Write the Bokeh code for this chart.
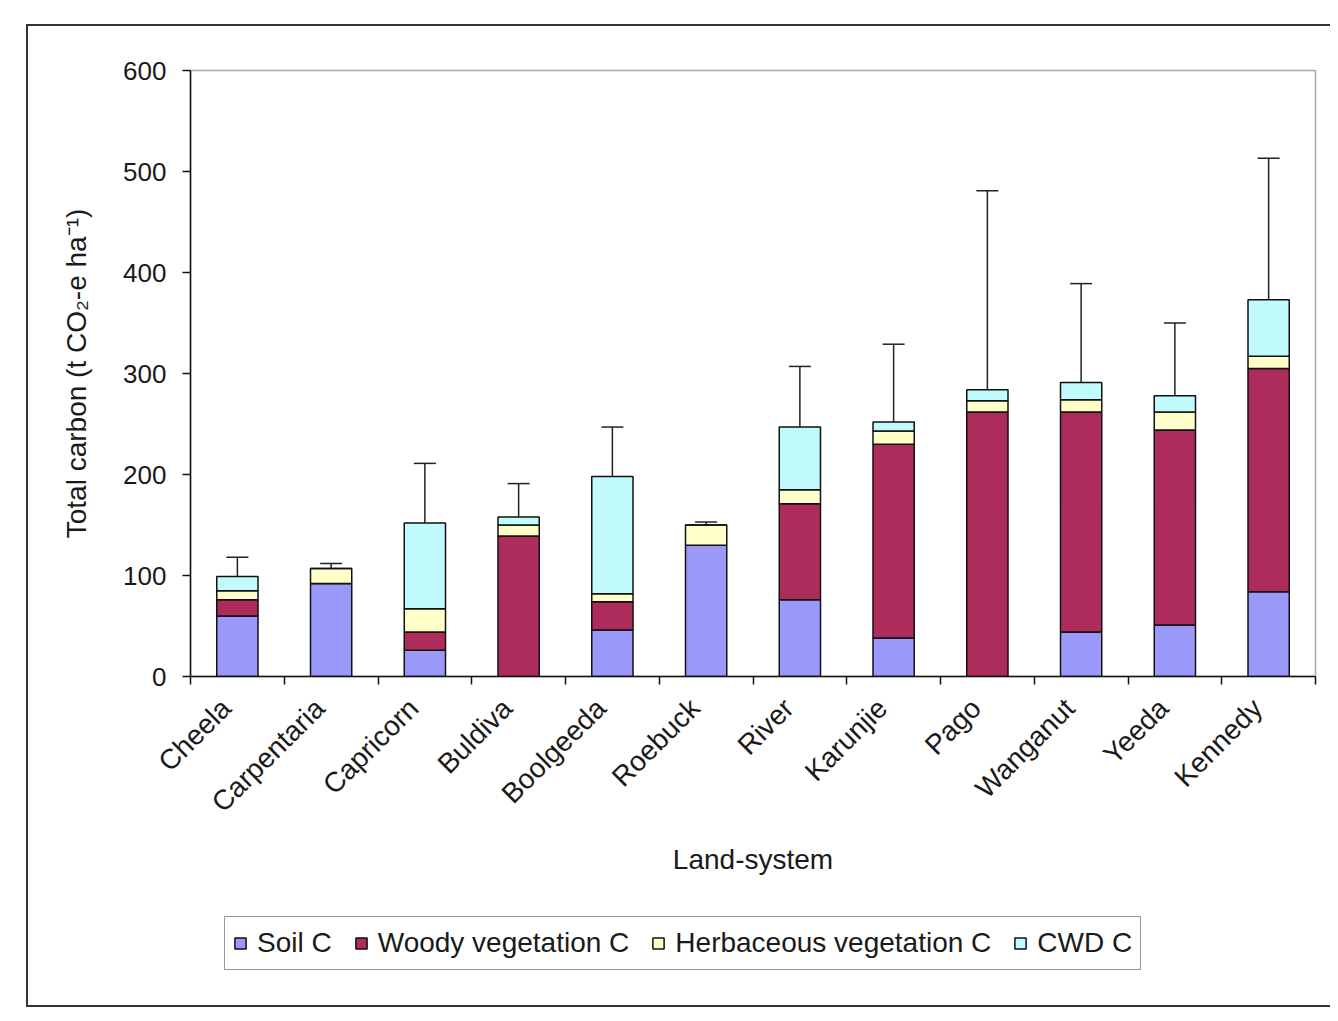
import math
from bokeh.plotting import figure
from bokeh.models import (ColumnDataSource, FixedTicker, Range1d, Whisker, TeeHead,
                          Legend, LegendItem, Spacer)
from bokeh.layouts import column, row
from bokeh.embed import file_html
from bokeh.resources import INLINE

# ---- data ----
sites = ["Cheela", "Carpentaria", "Capricorn", "Buldiva", "Boolgeeda", "Roebuck",
         "River", "Karunjie", "Pago", "Wanganut", "Yeeda", "Kennedy"]
soil_c = [60, 92, 26, 0, 46, 130, 76, 38, 0, 44, 51, 84]
woody_c = [16, 0, 18, 139, 28, 0, 95, 192, 262, 218, 193, 221]
herb_c = [9, 15, 23, 11, 8, 20, 14, 13, 11, 12, 18, 12]
cwd_c = [14, 0, 85, 8, 116, 0, 62, 9, 11, 17, 16, 56]
error_sd = [19, 5, 59, 33, 49, 3, 60, 77, 197, 98, 72, 140]
y_ticks = [0, 100, 200, 300, 400, 500, 600]
series_labels = ["Soil C", "Woody vegetation C", "Herbaceous vegetation C", "CWD C"]

colors = ["#9A98F8", "#AE2C5C", "#FFFFCA", "#C0FAFC"]
FONT = "Liberation Sans"
TXT = "#1a1a1a"
EDGE = "#333333"

n = len(sites)
xpos = [i + 0.5 for i in range(n)]
totals = [a + b + c + d for a, b, c, d in zip(soil_c, woody_c, herb_c, cwd_c)]
upper = [t + e for t, e in zip(totals, error_sd)]

src = ColumnDataSource(dict(x=xpos, soil=soil_c, woody=woody_c, herb=herb_c, cwd=cwd_c,
                            total=totals, upper=upper))

W = 1302
P_H = 870
L_H = 109

p = figure(width=W, height=P_H, x_range=Range1d(0, n), y_range=Range1d(0, 600),
           output_backend="svg", toolbar_location=None,
           min_border_left=162, min_border_right=15, min_border_top=44, min_border_bottom=220,
           background_fill_color="white", border_fill_color="white")
p.outline_line_color = "#a8a8a8"
p.outline_line_width = 1.5
p.xgrid.visible = False
p.ygrid.visible = False

rs = p.vbar_stack(["soil", "woody", "herb", "cwd"], x="x", width=0.44, source=src,
                  fill_color=colors, line_color="#111111", line_width=1.5)

wh = Whisker(source=src, base="x", lower="total", upper="upper", dimension="height",
             line_color="#222222", line_width=1.5, lower_head=None,
             upper_head=TeeHead(size=22, line_color="#222222", line_width=1.5))
p.add_layout(wh)

# x axis: labels near category centres, tick marks between categories
label_pos = [i + 0.38 for i in range(n)]
xa = p.xaxis[0]
xa.ticker = FixedTicker(ticks=label_pos, minor_ticks=list(range(n + 1)))
xa.major_label_overrides = {pos: s for pos, s in zip(label_pos, sites)}
xa.major_label_orientation = math.pi / 4
xa.major_tick_line_color = None
xa.major_tick_out = 8
xa.major_tick_in = 0
xa.minor_tick_in = 0
xa.minor_tick_out = 8
xa.minor_tick_line_color = "#111111"
xa.minor_tick_line_width = 1.5
xa.axis_line_color = "#111111"
xa.axis_line_width = 1.5
xa.major_label_text_font = FONT
xa.major_label_text_font_size = "28px"
xa.major_label_text_color = TXT
xa.major_label_standoff = 19
xa.axis_label = "Land-system"
xa.axis_label_text_font = FONT
xa.axis_label_text_font_size = "28px"
xa.axis_label_text_font_style = "normal"
xa.axis_label_text_color = TXT
xa.axis_label_standoff = 12

ya = p.yaxis[0]
ya.ticker = FixedTicker(ticks=y_ticks)
ya.major_tick_out = 8
ya.major_tick_in = 0
ya.minor_tick_line_color = None
ya.major_tick_line_color = "#111111"
ya.major_tick_line_width = 1.5
ya.axis_line_color = "#111111"
ya.axis_line_width = 1.5
ya.major_label_text_font = FONT
ya.major_label_text_font_size = "26px"
ya.major_label_text_color = TXT
ya.major_label_standoff = 16
ya.axis_label = "Total carbon (t CO\u2082-e ha\u207b\u00b9)"
ya.axis_label_text_font = FONT
ya.axis_label_text_font_size = "28px"
ya.axis_label_text_font_style = "normal"
ya.axis_label_text_color = TXT
ya.axis_label_standoff = 28

# legend strip below the chart; its proxy renderers hold only NaN (nothing is drawn)
lg = figure(width=W, height=L_H, x_range=Range1d(0, 1), y_range=Range1d(0, 1),
            x_axis_type=None, y_axis_type=None, output_backend="svg", toolbar_location=None,
            min_border=0, min_border_left=0, min_border_right=0, min_border_top=0,
            min_border_bottom=0, outline_line_color=None,
            background_fill_color="white", border_fill_color="white")
lg.xgrid.visible = False
lg.ygrid.visible = False
proxy = ColumnDataSource(dict(x=[float("nan")], top=[float("nan")]))
lrs = [lg.vbar(x="x", top="top", width=0.1, source=proxy, fill_color=c,
               line_color="#111111", line_width=1.5) for c in colors]
legend = Legend(items=[LegendItem(label=lab, renderers=[r]) for lab, r in zip(series_labels, lrs)],
                orientation="horizontal", location=(34, 35), margin=0,
                label_text_font=FONT, label_text_font_size="28px", label_text_color=TXT,
                glyph_width=14, glyph_height=14, label_standoff=10, spacing=22,
                label_height=36, padding=8, border_line_color=EDGE, border_line_width=1.5,
                background_fill_color="white", background_fill_alpha=1.0)
lg.add_layout(legend)

line_style = {"background-color": EDGE}
root = column(
    Spacer(width=1330, height=24),
    row(Spacer(width=26, height=2), Spacer(width=W + 2, height=2, styles=line_style)),
    row(Spacer(width=26, height=P_H + L_H),
        Spacer(width=2, height=P_H + L_H, styles=line_style),
        column(p, lg)),
    row(Spacer(width=26, height=2), Spacer(width=W + 2, height=2, styles=line_style)),
)

open("out.html", "w").write(file_html(root, INLINE))
